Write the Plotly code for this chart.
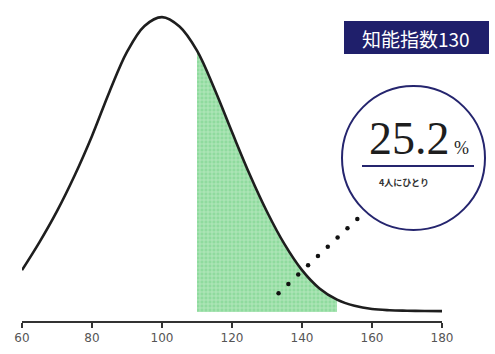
import numpy as np
import plotly.graph_objects as go

# IQ score axis and relative frequency of the bell curve (peak = 100)
iq = [60, 65, 70, 75, 80, 85, 90, 95, 100, 105, 110, 115, 120,
      125, 130, 135, 140, 145, 150, 155, 160, 165, 170, 175, 180]
freq = [14.2, 23.7, 34.2, 46.2, 59.7, 74.7, 88.2, 97.0, 100.0, 96.8, 88.6, 75.6, 61.0,
        46.8, 34.0, 23.0, 14.2, 8.0, 4.2, 2.1, 1.0, 0.6, 0.45, 0.35, 0.3]

# highlighted band
band_lo, band_hi = 110, 150
tick_vals = [60, 80, 100, 120, 140, 160, 180]

share_text = "25.2"
share_caption = "4人にひとり"
badge_text = "知能指数130"

W, H = 495, 354
ML, MR, MT, MB = 22, 53, 10, 33
PW, PH = W - ML - MR, H - MT - MB
NAVY = "#25256e"


def px_x(px):
    return (px - ML) / PW


def px_y(py):
    return (H - MB - py) / PH


band_x = [v for v in iq if band_lo <= v <= band_hi]
band_y = [f for v, f in zip(iq, freq) if band_lo <= v <= band_hi]

fig = go.Figure()

# checkered green area under the curve
fig.add_trace(go.Scatter(
    x=band_x, y=band_y, mode="lines", line=dict(width=0, shape="spline"),
    fill="tozeroy", fillcolor="#93dca2",
    fillpattern=dict(shape="+", size=4, solidity=0.35,
                     fgcolor="#e6f8e8", bgcolor="#8fdb9e"),
    hoverinfo="skip", showlegend=False,
))

# bell curve
fig.add_trace(go.Scatter(
    x=iq, y=freq, mode="lines",
    line=dict(color="#1e1e1e", width=2.6, shape="spline", smoothing=1.0),
    hoverinfo="skip", showlegend=False,
))

# dotted leader from the shaded area to the callout
lead_x = np.linspace(133.3, 155.8, 9)
lead_y = np.linspace(6.4, 31.5, 9)
fig.add_trace(go.Scatter(
    x=lead_x, y=lead_y, mode="markers",
    marker=dict(color="#111111", size=4.5),
    hoverinfo="skip", showlegend=False,
))

shapes = [
    # callout circle
    dict(type="circle", xref="paper", yref="paper",
         x0=px_x(342), x1=px_x(485), y0=px_y(230), y1=px_y(86),
         line=dict(color=NAVY, width=2), fillcolor="rgba(255,255,255,0)"),
    # rule under the percentage
    dict(type="line", xref="paper", yref="paper",
         x0=px_x(362), x1=px_x(474), y0=px_y(166), y1=px_y(166),
         line=dict(color=NAVY, width=2)),
    # badge background
    dict(type="rect", xref="paper", yref="paper",
         x0=px_x(344), x1=px_x(489), y0=px_y(54), y1=px_y(21),
         line=dict(width=0), fillcolor="#1f1f6b"),
]

annotations = [
    dict(text=badge_text, xref="paper", yref="paper",
         x=px_x(416), y=px_y(38), xanchor="center", yanchor="middle", showarrow=False,
         font=dict(family="Noto Sans CJK JP", size=19, color="white")),
    dict(text=share_text + "<span style='font-size:18px'> %</span>",
         xref="paper", yref="paper", x=px_x(419), y=px_y(138),
         xanchor="center", yanchor="middle", showarrow=False,
         font=dict(family="Liberation Serif", size=46, color="#1e1e1e")),
    dict(text="<b>" + share_caption + "</b>", xref="paper", yref="paper",
         x=px_x(404), y=px_y(182), xanchor="center", yanchor="middle", showarrow=False,
         font=dict(family="Noto Sans CJK JP", size=9, color="#333333")),
]

fig.update_layout(
    width=W, height=H,
    margin=dict(l=ML, r=MR, t=MT, b=MB),
    paper_bgcolor="white", plot_bgcolor="white",
    shapes=shapes, annotations=annotations,
    xaxis=dict(range=[60, 180], tickvals=tick_vals, showgrid=False, zeroline=False,
               showline=True, linecolor="#333333", linewidth=2,
               ticks="outside", ticklen=5, tickwidth=2, tickcolor="#333333",
               tickfont=dict(family="DejaVu Sans", size=12, color="#555555")),
    yaxis=dict(range=[-3.05, 102.4], visible=False, showgrid=False, zeroline=False),
)

fig.write_html("out.html")
